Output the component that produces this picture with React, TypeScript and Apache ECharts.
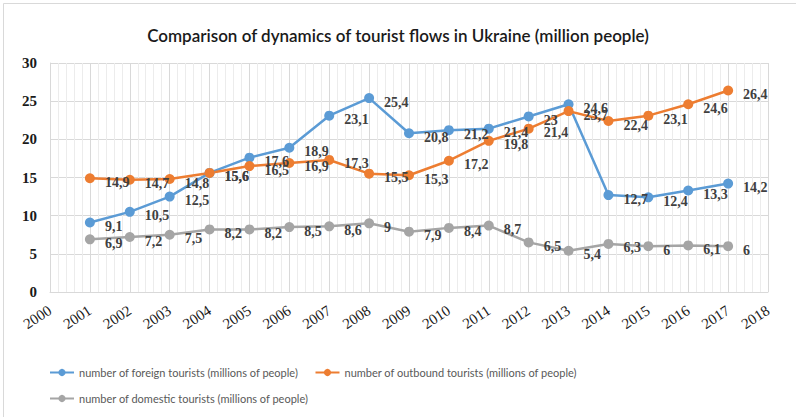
import React, { useEffect, useRef } from "react";
import * as echarts from "echarts";

const years = [2001, 2002, 2003, 2004, 2005, 2006, 2007, 2008, 2009, 2010, 2011, 2012, 2013, 2014, 2015, 2016, 2017];
const foreign = [9.1, 10.5, 12.5, 15.6, 17.6, 18.9, 23.1, 25.4, 20.8, 21.2, 21.4, 23, 24.6, 12.7, 12.4, 13.3, 14.2];
const outbound = [14.9, 14.7, 14.8, 15.6, 16.5, 16.9, 17.3, 15.5, 15.3, 17.2, 19.8, 21.4, 23.7, 22.4, 23.1, 24.6, 26.4];
const domestic = [6.9, 7.2, 7.5, 8.2, 8.2, 8.5, 8.6, 9, 7.9, 8.4, 8.7, 6.5, 5.4, 6.3, 6, 6.1, 6];
const seriesNames = [
  "number of foreign tourists (millions of people)",
  "number of outbound tourists (millions of people)",
  "number of domestic tourists (millions of people)",
];
const colors = ["#5B9BD5", "#ED7D31", "#A5A5A5"];
const titleText = "Comparison of dynamics of tourist flows in Ukraine (million people)";

export default function App() {
  const ref = useRef<HTMLDivElement>(null);
  useEffect(() => {
    if (!ref.current) return;
    const chart = echarts.init(ref.current, undefined, { renderer: "svg" });
    const all = [foreign, outbound, domestic];
    const serif = "'Liberation Serif', 'Times New Roman', serif";
    const legendText = { fontFamily: "Lato, sans-serif", fontSize: 11, color: "#595959" };
    chart.setOption({
      animation: false,
      backgroundColor: "#ffffff",
      title: {
        text: titleText,
        left: "center",
        top: 22,
        textStyle: { fontFamily: "Lato, 'Open Sans', sans-serif", fontSize: 17, fontWeight: 600, color: "#1a1a1a" },
      },
      graphic: [
        {
          type: "polyline",
          shape: { points: [[3.5, 417], [3.5, 3.5], [796, 3.5]] },
          style: { stroke: "#d9d9d9", fill: "none", lineWidth: 1 },
          silent: true,
        },
      ],
      legend: [
        {
          data: [seriesNames[0], seriesNames[1]],
          left: 44,
          top: 362,
          itemWidth: 24,
          itemHeight: 9,
          itemGap: 16,
          textStyle: legendText,
        },
        {
          data: [seriesNames[2]],
          left: 44,
          top: 388,
          itemWidth: 24,
          itemHeight: 9,
          textStyle: legendText,
        },
      ],
      grid: { left: 50, right: 28, top: 63, bottom: 125 },
      xAxis: {
        type: "value",
        min: 2000,
        max: 2018,
        interval: 1,
        axisLine: { show: true, lineStyle: { color: "#d9d9d9" } },
        axisTick: { show: false },
        axisLabel: { rotate: 33, fontFamily: serif, fontSize: 15, color: "#1a1a1a", margin: 17, formatter: (v: number) => String(v) },
        splitLine: { show: true, lineStyle: { color: "#d9d9d9" } },
        minorTick: { show: true, splitNumber: 5, length: 0, lineStyle: { color: "transparent" } },
        minorSplitLine: { show: true, lineStyle: { color: "#ececec" } },
      },
      yAxis: {
        type: "value",
        min: 0,
        max: 30,
        interval: 5,
        axisLine: { show: true, lineStyle: { color: "#d9d9d9" } },
        axisTick: { show: false },
        axisLabel: { fontFamily: serif, fontSize: 15, fontWeight: "bold", color: "#1a1a1a", margin: 13 },
        splitLine: { show: true, lineStyle: { color: "#d9d9d9" } },
      },
      series: all.map((vals, i) => ({
        name: seriesNames[i],
        type: "line",
        data: years.map((y, j) => [y, vals[j]]),
        symbol: "circle",
        symbolSize: 10,
        itemStyle: { color: colors[i] },
        lineStyle: { color: colors[i], width: 2.5 },
        label: {
          show: true,
          position: "right",
          distance: 10,
          offset: [0, 4],
          fontFamily: serif,
          fontSize: 14,
          fontWeight: "bold",
          color: "#404040",
          formatter: (p: any) => String(p.value[1]).replace(".", ","),
        },
      })),
    });
    return () => chart.dispose();
  }, []);
  return <div ref={ref} style={{ position: "fixed", left: 0, top: 0, width: 796, height: 417 }} />;
}
